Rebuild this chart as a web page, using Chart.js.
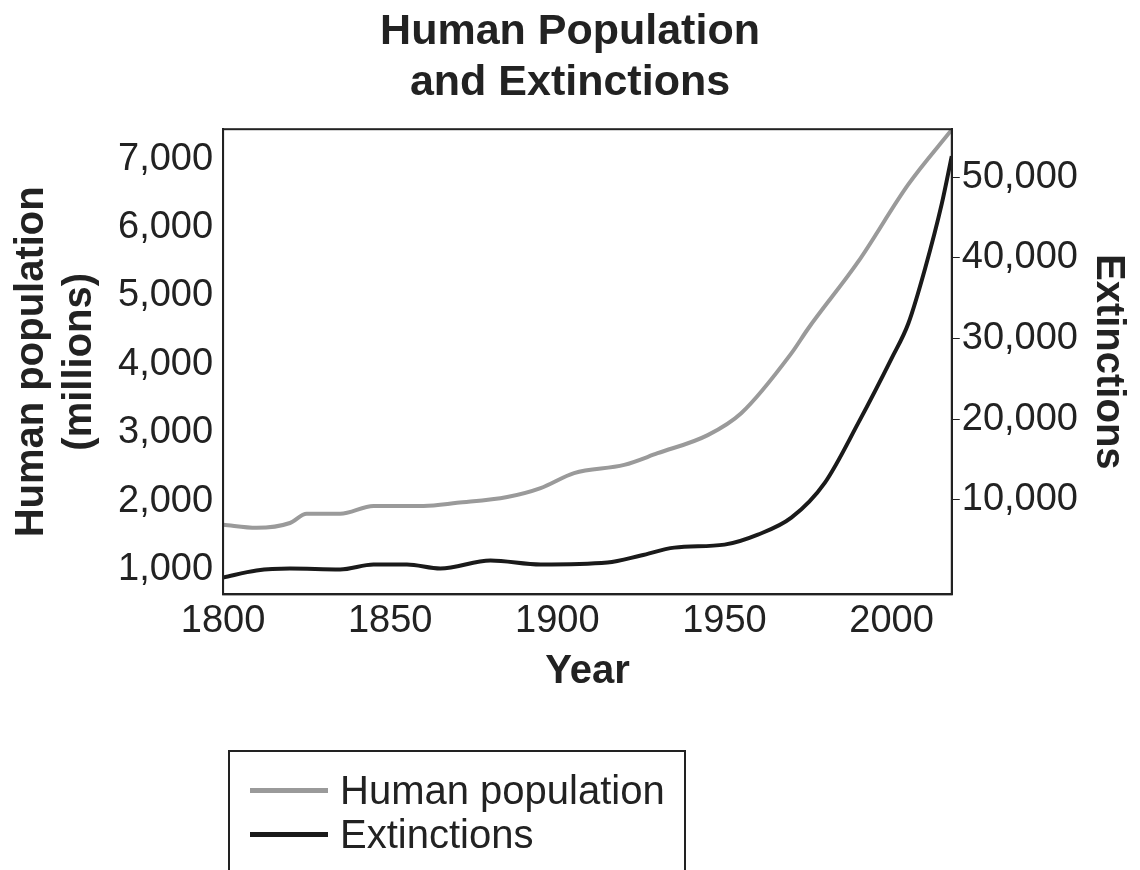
<!DOCTYPE html>
<html>
<head>
<meta charset="utf-8">
<script src="https://cdn.jsdelivr.net/npm/chart.js@4"></script>
<style>
  body { margin: 0; background: #fff; font-family: "Liberation Sans", Arial, sans-serif; }
  #wrap { position: relative; width: 1140px; height: 870px; }
  #legend { position: absolute; left: 228px; top: 750px; width: 458px; height: 125px;
            border: 2px solid #222; box-sizing: border-box; font-size: 40px; color: #222; }
  .row { position: absolute; left: 20px; height: 44px; display: flex; align-items: center; }
  .sw { width: 78px; height: 5px; margin-right: 12px; }
</style>
</head>
<body>
<div id="wrap">
  <canvas id="chart" width="1140" height="870"></canvas>
  <div id="legend">
    <div class="row" style="top:16px"><div class="sw" style="background:#9a9a9a"></div>Human population</div>
    <div class="row" style="top:60px"><div class="sw" style="background:#1a1a1a"></div>Extinctions</div>
  </div>
</div>
<script>
const popYears = [1800, 1810, 1820, 1825, 1835, 1845, 1860, 1870, 1885, 1895, 1905, 1920, 1930, 1945, 1955, 1970, 1975, 1990, 2005, 2018];
const population = [1655, 1610, 1680, 1815, 1815, 1930, 1930, 1975, 2060, 2190, 2410, 2530, 2700, 2965, 3285, 4160, 4520, 5500, 6630, 7430];
const extYears = [1800, 1810, 1820, 1835, 1845, 1855, 1865, 1880, 1895, 1915, 1925, 1935, 1950, 1960, 1970, 1980, 1990, 2000, 2005, 2010, 2015, 2018];
const extinctions = [370, 1235, 1480, 1360, 1975, 1975, 1480, 2470, 1975, 2220, 3090, 4070, 4440, 5680, 7780, 12100, 19500, 27530, 31850, 38640, 46670, 52590];
const xTicks = [1800, 1850, 1900, 1950, 2000];
const popTicks = [1000, 2000, 3000, 4000, 5000, 6000, 7000];
const extTicks = [10000, 20000, 30000, 40000, 50000];

const ink = '#222';
const fam = '"Liberation Sans", Arial, sans-serif';
const tickFont = { family: fam, size: 38 };
const titleFont = { family: fam, size: 40, weight: 'bold' };

const frame = {
  id: 'frame',
  afterDraw(c) {
    const a = c.chartArea, ctx = c.ctx;
    ctx.save();
    ctx.strokeStyle = ink;
    ctx.lineWidth = 2;
    ctx.strokeRect(a.left, a.top, a.right - a.left, a.bottom - a.top);
    ctx.restore();
  }
};

new Chart(document.getElementById('chart').getContext('2d'), {
  type: 'line',
  data: {
    datasets: [{
      label: 'Human population',
      data: popYears.map((x, i) => ({ x: x, y: population[i] })),
      borderColor: '#9a9a9a',
      borderWidth: 4,
      pointRadius: 0,
      cubicInterpolationMode: 'monotone',
      yAxisID: 'y'
    },
    {
      label: 'Extinctions',
      data: extYears.map((x, i) => ({ x: x, y: extinctions[i] })),
      borderColor: '#1a1a1a',
      borderWidth: 4,
      pointRadius: 0,
      cubicInterpolationMode: 'monotone',
      yAxisID: 'y2'
    }]
  },
  options: {
    responsive: false,
    animation: false,
    layout: { padding: { left: 4, right: 4, top: 0, bottom: 170 } },
    plugins: {
      legend: { display: false },
      tooltip: { enabled: false },
      title: {
        display: true,
        text: ['Human Population', 'and Extinctions'],
        color: ink,
        font: { family: fam, size: 43, weight: 'bold' },
        padding: { top: 6, bottom: 20 },
        lineHeight: 1.1
      }
    },
    scales: {
      x: {
        type: 'linear', min: 1800, max: 2018,
        afterBuildTicks: s => { s.ticks = xTicks.map(v => ({ value: v })); },
        ticks: { color: ink, font: tickFont, maxRotation: 0, autoSkip: false, padding: 4, callback: v => String(v) },
        grid: { drawOnChartArea: false, color: ink, tickLength: 0 },
        border: { color: ink, width: 2 },
        title: { display: true, text: 'Year', color: ink, font: titleFont, padding: { top: 0 } }
      },
      y: {
        position: 'left', min: 636, max: 7437,
        afterBuildTicks: s => { s.ticks = popTicks.map(v => ({ value: v })); },
        ticks: { color: ink, font: tickFont, padding: 10, autoSkip: false, callback: v => v.toLocaleString('en-US') },
        grid: { drawOnChartArea: false, color: ink, tickLength: 0 },
        border: { color: ink, width: 2 },
        title: { display: true, text: ['Human population', '(millions)'], color: ink, font: titleFont, padding: { bottom: 4 } }
      },
      y2: {
        position: 'right', min: -1728, max: 55926,
        afterBuildTicks: s => { s.ticks = extTicks.map(v => ({ value: v })); },
        ticks: { color: ink, font: tickFont, padding: 2, autoSkip: false, callback: v => v.toLocaleString('en-US') },
        grid: { drawOnChartArea: false, color: ink, tickLength: 8 },
        border: { color: ink, width: 2 },
        title: { display: true, text: 'Extinctions', color: ink, font: titleFont, padding: { top: 4 } }
      }
    }
  },
  plugins: [frame]
});
</script>
</body>
</html>
